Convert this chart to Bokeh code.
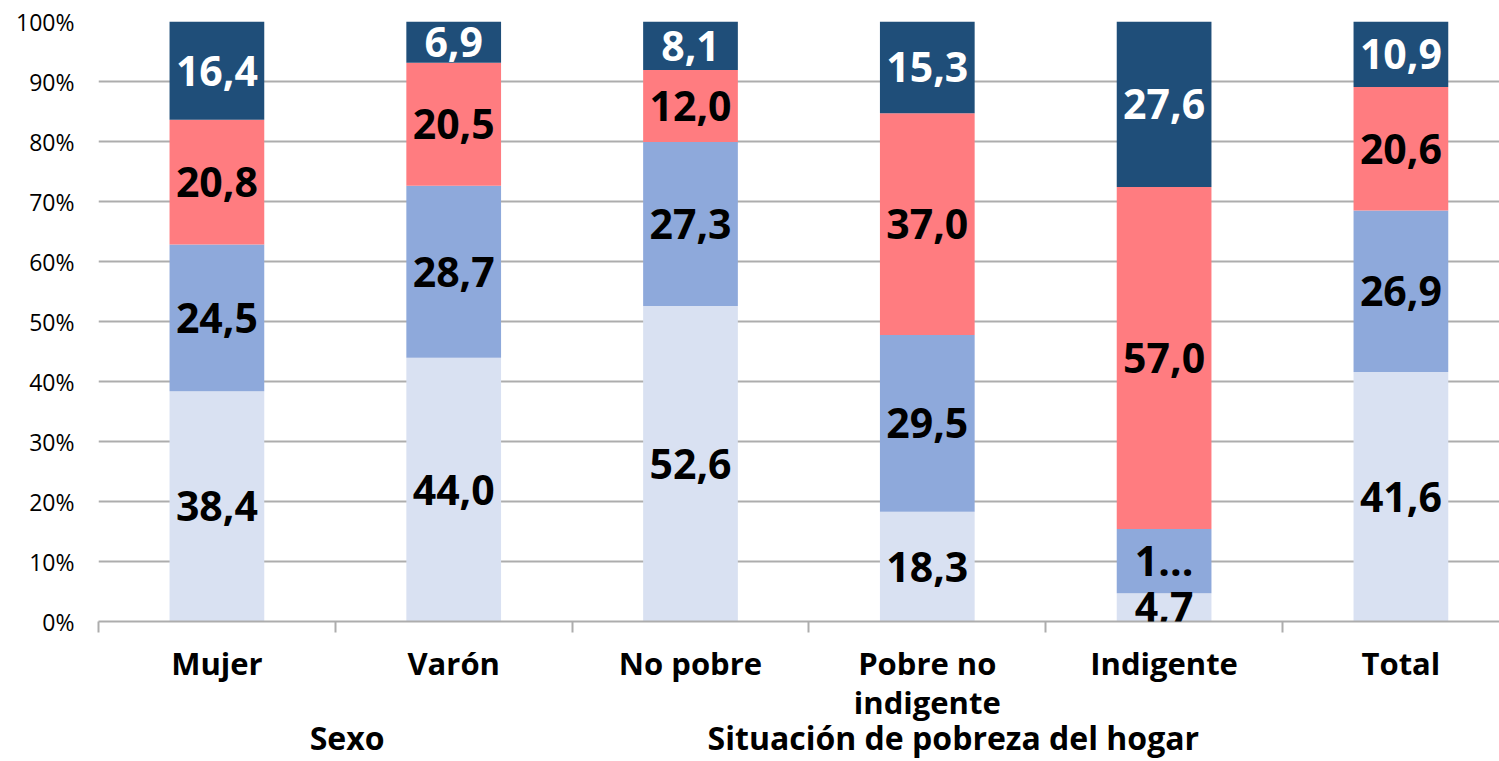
from bokeh.plotting import figure
from bokeh.models import ColumnDataSource, Label, FixedTicker, Range1d, LinearAxis
from bokeh.embed import file_html
from bokeh.resources import INLINE

# ---- data ----
categories = ["Mujer", "Varón", "No pobre", "Pobre no\nindigente", "Indigente", "Total"]
groups = ["Sexo", "Situación de pobreza del hogar"]
s1 = [38.4, 44.0, 52.6, 18.3, 4.7, 41.6]
s2 = [24.5, 28.7, 27.3, 29.5, 10.7, 26.9]
s3 = [20.8, 20.5, 12.0, 37.0, 57.0, 20.6]
s4 = [16.4, 6.9, 8.1, 15.3, 27.6, 10.9]
# label that the original chart shows truncated
truncated = {("s2", 4): "1..."}
y_ticks = list(range(0, 101, 10))

# ---- style ----
colors = ["#D9E1F2", "#8EA9DB", "#FF7C80", "#1F4E79"]
text_colors = ["black", "black", "black", "white"]
FONT = "Open Sans"
GRAY = "#ADADAD"
group_x = [0.55, 3.11]

series = {"s1": s1, "s2": s2, "s3": s3, "s4": s4}
names = list(series.keys())
n = len(categories)
xs = list(range(n))
totals = [sum(series[k][i] for k in names) for i in range(n)]
shares = {k: [series[k][i] / totals[i] * 100 for i in range(n)] for k in names}

src = ColumnDataSource(dict(x=xs, **shares))

W, H = 1499, 761
left, top, bottom = 98, 21, 139
cat_w = 236.8
frame_w = W - left
p = figure(width=W, height=H, output_backend="svg", toolbar_location=None,
           x_range=Range1d(-0.5, -0.5 + frame_w / cat_w), y_range=Range1d(0, 100),
           min_border_left=left, min_border_right=0, min_border_top=top, min_border_bottom=bottom)
p.outline_line_color = None
p.background_fill_color = "white"
p.border_fill_color = "white"

p.vbar_stack(names, x="x", width=0.4, color=colors, line_color=None, source=src)

# value labels
for i in range(n):
    bottom_v = 0.0
    for j, k in enumerate(names):
        h = shares[k][i]
        txt = truncated.get((k, i), f"{series[k][i]:.1f}".replace(".", ","))
        p.add_layout(Label(x=i, y=bottom_v + h / 2, text=txt, text_color=text_colors[j],
                           text_font=FONT, text_font_style="bold", text_font_size="41px",
                           text_align="center", text_baseline="middle"))
        bottom_v += h

# y axis
p.yaxis.ticker = FixedTicker(ticks=y_ticks)
p.yaxis.major_label_overrides = {t: f"{t}%" for t in y_ticks}
p.yaxis.axis_line_color = None
p.yaxis.major_tick_line_color = None
p.yaxis.minor_tick_line_color = None
p.yaxis.major_tick_out = 0
p.yaxis.major_label_standoff = 24
p.yaxis.major_label_text_font = FONT
p.yaxis.major_label_text_font_size = "23px"
p.yaxis.major_label_text_color = "black"

# x axis: category labels at centers, separator ticks between categories
p.xaxis.ticker = FixedTicker(ticks=xs, minor_ticks=[i - 0.5 for i in range(n + 1)])
p.xaxis.major_label_overrides = {i: c for i, c in enumerate(categories)}
p.xaxis.major_label_text_font = FONT
p.xaxis.major_label_text_font_style = "bold"
p.xaxis.major_label_text_font_size = "31px"
p.xaxis.major_label_text_color = "black"
p.xaxis.major_label_text_line_height = 0.95
p.xaxis.major_label_standoff = 9
p.xaxis.major_tick_line_color = None
p.xaxis.major_tick_out = 0
p.xaxis.major_tick_in = 0
p.xaxis.axis_line_color = GRAY
p.xaxis.axis_line_width = 2
p.xaxis.minor_tick_line_color = GRAY
p.xaxis.minor_tick_line_width = 2
p.xaxis.minor_tick_out = 11
p.xaxis.minor_tick_in = 0

# group axis
gaxis = LinearAxis(ticker=FixedTicker(ticks=group_x),
                   major_label_overrides={gx: g for gx, g in zip(group_x, groups)})
gaxis.axis_line_color = None
gaxis.major_tick_line_color = None
gaxis.minor_tick_line_color = None
gaxis.major_tick_out = 0
gaxis.major_tick_in = 0
gaxis.major_label_standoff = -11
gaxis.major_label_text_font = FONT
gaxis.major_label_text_font_style = "bold"
gaxis.major_label_text_font_size = "32px"
gaxis.major_label_text_color = "black"
p.add_layout(gaxis, "below")

p.xgrid.grid_line_color = None
p.ygrid.grid_line_color = GRAY
p.ygrid.grid_line_width = 2

open("out.html", "w").write(file_html(p, INLINE))
